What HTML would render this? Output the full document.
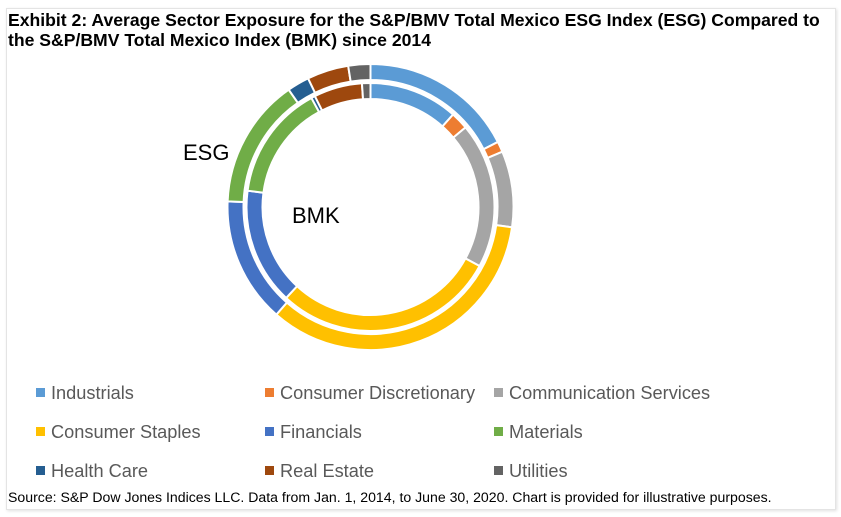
<!DOCTYPE html>
<html><head><meta charset="utf-8"><style>
body{margin:0;width:841px;height:517px;background:#fff;overflow:hidden;font-family:"Liberation Sans",Arial,sans-serif;}
#frame{position:absolute;left:6px;top:8px;width:828px;height:500px;border:1px solid #e4e4e4;box-shadow:1px 1px 3px #e0e0e0;}
.title{position:absolute;left:8px;top:10px;font-weight:bold;font-size:17.6px;line-height:20px;color:#000;white-space:nowrap;}
.src{position:absolute;left:8px;top:489px;font-size:14.1px;color:#000;white-space:nowrap;}
.leg{position:absolute;font-size:18.2px;color:#595959;white-space:nowrap;}
.leg span.sw{display:inline-block;width:9px;height:9px;margin-right:6px;vertical-align:2px;}
</style></head><body>
<div id="frame"></div>
<div class="title">Exhibit 2: Average Sector Exposure for the S&amp;P/BMV Total Mexico ESG Index (ESG) Compared to<br>the S&amp;P/BMV Total Mexico Index (BMK) since 2014</div>
<svg id="chart" width="841" height="517" style="position:absolute;left:0;top:0">
<text x="183" y="160" font-size="22" fill="#000" font-family="Liberation Sans, sans-serif">ESG</text>
<text x="292" y="223" font-size="22" fill="#000" font-family="Liberation Sans, sans-serif">BMK</text>
</svg>
<div id="legend"></div>
<div class="src">Source: S&amp;P Dow Jones Indices LLC. Data from Jan. 1, 2014, to June 30, 2020. Chart is provided for illustrative purposes.</div>
<script>
const categories=["Industrials","Consumer Discretionary","Communication Services","Consumer Staples","Financials","Materials","Health Care","Real Estate","Utilities"];
const esgValues=[17.5,1.2,8.6,34.2,14.2,14.7,2.5,4.7,2.5];
const bmkValues=[11.6,2.3,19.0,29.0,15.2,15.0,0.5,6.3,1.1];
const colors=["#5b9bd5","#ed7d31","#a5a5a5","#ffc000","#4472c4","#70ad47","#255e91","#9e480e","#636363"];
const svg=document.getElementById('chart');
const NS="http://www.w3.org/2000/svg";
const cx=370.5,cy=207;
function pt(r,a){const t=a*Math.PI/180;return [cx+r*Math.sin(t),cy-r*Math.cos(t)];}
function arc(r0,r1,a0,a1){
  const large=(a1-a0)>180?1:0;
  const p1=pt(r1,a0),p2=pt(r1,a1),p3=pt(r0,a1),p4=pt(r0,a0);
  return `M${p1[0]},${p1[1]}A${r1},${r1} 0 ${large} 1 ${p2[0]},${p2[1]}L${p3[0]},${p3[1]}A${r0},${r0} 0 ${large} 0 ${p4[0]},${p4[1]}Z`;
}
function ring(vals,r0,r1,name){
  const tot=vals.reduce((a,b)=>a+b,0);let a=0;
  vals.forEach((v,i)=>{
    const a1=a+v/tot*360;
    const p=document.createElementNS(NS,'path');
    p.setAttribute('d',arc(r0,r1,a,a1));
    p.setAttribute('fill',colors[i]);
    p.setAttribute('stroke','#fff');
    p.setAttribute('stroke-width','2');
    
    
    svg.appendChild(p);a=a1;
  });
}
ring(esgValues,127,143,'esg');
ring(bmkValues,108,124,'bmk');
const leg=document.getElementById('legend');
const colX=[36,265,494],rowY=[383,422,461];
categories.forEach((c,i)=>{
  const d=document.createElement('div');
  d.className='leg';
  d.style.left=colX[i%3]+'px';d.style.top=rowY[Math.floor(i/3)]+'px';
  d.innerHTML='<span class="sw" style="background:'+colors[i]+'"></span>'+c;
  
  
  leg.appendChild(d);
});
</script>
</body></html>
